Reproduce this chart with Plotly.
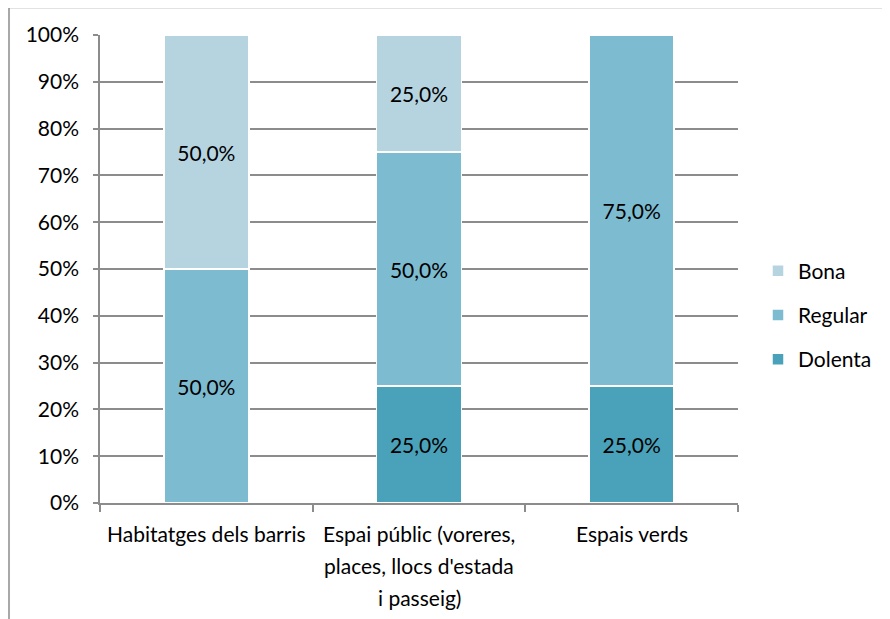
import plotly.graph_objects as go

categories = ["Habitatges dels barris",
              "Espai públic (voreres, places, llocs d'estada i passeig)",
              "Espais verds"]
category_label_lines = [["Habitatges dels barris"],
                        ["Espai públic (voreres,", "places, llocs d'estada", "i passeig)"],
                        ["Espais verds"]]
dolenta = [0, 25.0, 25.0]
regular = [50.0, 50.0, 75.0]
bona = [50.0, 25.0, 0]
y_ticks = [0, 10, 20, 30, 40, 50, 60, 70, 80, 90, 100]
y_tick_labels = ["0%", "10%", "20%", "30%", "40%", "50%", "60%", "70%", "80%", "90%", "100%"]

series = [("Dolenta", dolenta, "#4AA2BA", 3),
          ("Regular", regular, "#7DBBD0", 2),
          ("Bona", bona, "#B6D4E0", 1)]

FONT = "Lato"
FS = 21
fig = go.Figure()
for name, vals, col, rank in series:
    fig.add_trace(go.Bar(
        x=categories, y=vals, name=name, legendgroup=name, legendrank=rank,
        marker=dict(color=col, line=dict(color="white", width=1.5)),
        text=[v if v > 0 else None for v in vals],
        texttemplate="%{y:.1f}%", textposition="inside",
        insidetextanchor="middle",
        textfont=dict(family=FONT, size=FS, color="#000000"),
        width=0.4,
    ))

# category labels, one annotation per line for Excel-like line spacing
for cat, lines in zip(categories, category_label_lines):
    for i, line in enumerate(lines):
        fig.add_annotation(x=cat, y=0, xref="x", yref="y", text=line,
                           showarrow=False, xanchor="center", yanchor="middle",
                           yshift=-30 - 32 * i,
                           font=dict(family=FONT, size=FS, color="#000000"))

grid = "#8c8c8c"
W, H = 882, 611  # page adds an 8px body margin
fig.update_layout(
    barmode="stack",
    separators=",.",
    width=W, height=H,
    margin=dict(l=92, r=W - 730, t=27, b=H - 495),
    paper_bgcolor="white", plot_bgcolor="white",
    font=dict(family=FONT, size=FS, color="#000000"),
    showlegend=True,
    legend=dict(xref="container", yref="container", x=(758 - 8) / W,
                y=1 - (315 - 8) / H,
                xanchor="left", yanchor="middle", traceorder="grouped",
                font=dict(family=FONT, size=FS, color="#000000"),
                tracegroupgap=14, itemwidth=30),
    xaxis=dict(showline=True, linecolor=grid, linewidth=1.5,
               ticks="outside", tickson="boundaries", ticklen=7,
               tickcolor=grid, tickwidth=1.5, showgrid=False,
               showticklabels=False, range=[-0.5, 2.5]),
    yaxis=dict(range=[0, 100], tickvals=y_ticks, ticktext=y_tick_labels,
               showgrid=True, gridcolor=grid, gridwidth=1.5,
               showline=True, linecolor=grid, linewidth=1.5,
               ticks="outside", ticklen=5, tickcolor=grid, tickwidth=1.5,
               ticklabelstandoff=10, zeroline=False),
)
# outer chart border (partially cropped in the reference)
fig.add_shape(type="rect", xref="paper", yref="paper",
              x0=(9 - 100) / 638, x1=(900 - 100) / 638,
              y0=(503 - 640) / 468, y1=(503 - 7.5) / 468,
              line=dict(color="#8c8c8c", width=1.5), layer="below")
fig.write_html("out.html")
